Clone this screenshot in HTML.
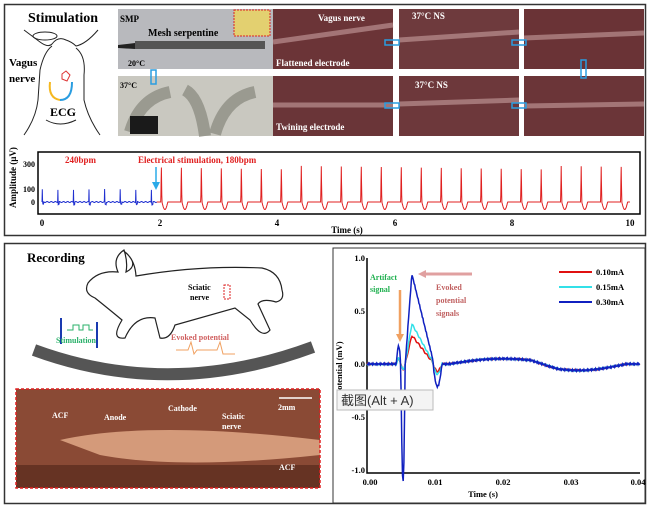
<!DOCTYPE html>
<html><head><meta charset="utf-8"><style>
body{margin:0;background:#fff;}
svg{display:block;font-family:"Liberation Serif",serif;font-weight:bold;}
</style></head><body>
<svg id="s" width="650" height="510" viewBox="0 0 650 510" xmlns="http://www.w3.org/2000/svg">
<rect x="0" y="0" width="650" height="510" fill="#fff"/>
<rect x="4.5" y="4.5" width="641" height="231" fill="none" stroke="#333" stroke-width="1.5"/>
<text x="28" y="22" font-size="14">Stimulation</text>
<g fill="none" stroke="#222" stroke-width="1">
<path d="M24 30 L40 42 Q48 48 52 44 Q58 36 66 40 Q72 42 76 46 Q86 44 98 30 M52 46 Q44 52 40 70 L38 100 Q36 118 24 135 M76 48 Q86 56 84 75 L84 100 Q88 118 100 135 M46 120 Q60 128 76 120"/>
<ellipse cx="45" cy="36" rx="12" ry="4"/>
</g>
<path d="M50 82 Q48 98 60 100" fill="none" stroke="#f5b820" stroke-width="2"/>
<path d="M60 100 Q72 100 72 82" fill="none" stroke="#2a9de0" stroke-width="2"/>
<path d="M62 74 l4 -3 l4 4 l-3 6 l-5 -2z" fill="none" stroke="#d33" stroke-width="1"/>
<text x="9" y="66" font-size="11">Vagus</text>
<text x="9" y="82" font-size="11">nerve</text>
<text x="50" y="116" font-size="12">ECG</text>
<rect x="118" y="9" width="155" height="60" fill="#b8b9bd"/>
<rect x="135" y="41" width="130" height="8" fill="#555"/>
<path d="M118 45 L135 43 L135 49 L118 48z" fill="#222"/>
<rect x="234" y="10" width="36" height="26" fill="#e3d070" stroke="#d22" stroke-dasharray="2,1"/>
<text x="120" y="22" font-size="9">SMP</text>
<text x="148" y="36" font-size="10">Mesh serpentine</text>
<text x="128" y="66" font-size="8">20°C</text>
<rect x="118" y="76" width="155" height="60" fill="#c9c8c0"/>
<path d="M130 132 Q140 98 170 92 M185 90 Q200 98 205 136 M215 134 Q225 98 255 92" stroke="#9a9a90" stroke-width="12" fill="none"/>
<rect x="130" y="116" width="28" height="18" fill="#1a1a1a"/>
<text x="120" y="88" font-size="8">37°C</text>
<rect x="273" y="9" width="120" height="60" fill="#6b3437"/>
<rect x="399" y="9" width="120" height="60" fill="#6e3a3d"/>
<rect x="524" y="9" width="120" height="60" fill="#6a3336"/>
<rect x="273" y="76" width="120" height="60" fill="#6a3538"/>
<rect x="399" y="76" width="120" height="60" fill="#6d383b"/>
<rect x="524" y="76" width="120" height="60" fill="#6b3538"/>
<g stroke="#c8a0a0" stroke-width="5" opacity=".6" fill="none">
<path d="M273 42 L393 25 M399 40 L519 32 M524 38 L644 33 M273 105 L393 105 M399 104 L519 100 M524 106 L644 104"/>
</g>
<text x="318" y="21" font-size="9" fill="#fff">Vagus nerve</text>
<text x="276" y="66" font-size="9" fill="#fff">Flattened electrode</text>
<text x="412" y="19" font-size="9" fill="#fff">37°C NS</text>
<text x="415" y="88" font-size="9" fill="#fff">37°C NS</text>
<text x="276" y="130" font-size="9" fill="#fff">Twining electrode</text>
<g fill="none" stroke="#2a9de0" stroke-width="1.5">
<rect x="385" y="40" width="14" height="5"/><rect x="512" y="40" width="14" height="5"/>
<rect x="581" y="60" width="5" height="18"/><rect x="385" y="103" width="14" height="5"/><rect x="512" y="103" width="14" height="5"/>
<rect x="151" y="70" width="5" height="14"/>
</g>
<rect x="38" y="152" width="602" height="62" fill="none" stroke="#000" stroke-width="1.5"/>
<g id="ecg"></g>
<text x="16" y="208" font-size="9" transform="rotate(-90 16 208)">Amplitude (µV)</text>
<g font-size="8" text-anchor="end"><text x="35" y="167">300</text><text x="35" y="192">100</text><text x="35" y="205">0</text></g>
<g font-size="9" text-anchor="middle"><text x="42" y="226">0</text><text x="160" y="226">2</text><text x="277" y="226">4</text><text x="395" y="226">6</text><text x="512" y="226">8</text><text x="630" y="226">10</text></g>
<text x="347" y="233" font-size="9" text-anchor="middle">Time (s)</text>
<text x="65" y="163" font-size="9" fill="#e02020">240bpm</text>
<text x="138" y="163" font-size="9" fill="#e02020">Electrical stimulation, 180bpm</text>
<path d="M156 167 L156 184" stroke="#2aaae8" stroke-width="1.5"/><path d="M152 182 L156 190 L160 182z" fill="#2aaae8"/>
<rect x="4.5" y="243.5" width="641" height="260" fill="none" stroke="#333" stroke-width="1.5"/>
<text x="27" y="262" font-size="13">Recording</text>
<path d="M95 298 Q83 293 88 283 Q98 270 118 272 Q112 258 124 250 Q128 262 126 272 Q140 265 125 252 Q135 260 136 276 Q200 265 262 268 Q280 272 282 290 Q285 300 276 302 Q262 298 258 304 L270 330 Q262 340 250 320 L235 308 Q200 318 175 325 Q170 340 160 338 L155 318 Q135 315 125 338 Q110 340 122 320 Q110 310 95 298Z" fill="none" stroke="#222" stroke-width="1.2"/>
<text x="188" y="290" font-size="8">Sciatic</text><text x="190" y="300" font-size="8">nerve</text>
<rect x="224" y="285" width="6" height="14" fill="none" stroke="#d22" stroke-dasharray="2,1"/>
<path d="M34 350 Q170 400 313 347" stroke="#555" stroke-width="12" fill="none"/>
<rect x="60" y="318" width="2" height="26" fill="#1a3ab0"/><rect x="96" y="322" width="2" height="26" fill="#1a3ab0"/>
<path d="M67 330 h6 v-5 h6 v5 h4 v-5 h6 v5 h4" stroke="#2ab06a" fill="none"/>
<text x="56" y="343" font-size="8" fill="#2ab06a">Stimulation</text>
<text x="171" y="340" font-size="8" fill="#d06060">Evoked potential</text>
<path d="M176 350 h12 l3 -8 l3 12 l3 -4 h20 l3 -8 l3 12 h12" stroke="#f0a060" fill="none"/>
<rect x="16" y="389" width="304" height="99" fill="#8a4a35"/>
<path d="M60 440 Q150 420 320 440 L320 455 Q180 470 100 455Z" fill="#d49a7a"/>
<rect x="16" y="465" width="304" height="23" fill="#4e2418" opacity=".6"/>
<rect x="16" y="389" width="304" height="99" fill="none" stroke="#e02020" stroke-dasharray="3,2" stroke-width="1.5"/>
<g fill="#fff" font-size="8"><text x="52" y="418">ACF</text><text x="104" y="420">Anode</text><text x="168" y="411">Cathode</text><text x="222" y="419">Sciatic</text><text x="222" y="429">nerve</text><text x="278" y="410">2mm</text><text x="279" y="470">ACF</text></g>
<path d="M279 398 h33" stroke="#fff" stroke-width="1.5"/>
<rect x="333" y="248" width="312" height="255" fill="none" stroke="#333" stroke-width="1"/>
<path d="M367 258 V473 H640" fill="none" stroke="#000" stroke-width="1.5"/>
<g id="ep"></g>
<g font-size="8.5" text-anchor="end"><text x="365" y="261">1.0</text><text x="365" y="314">0.5</text><text x="365" y="367">0.0</text><text x="365" y="420">-0.5</text><text x="365" y="473">-1.0</text></g>
<g font-size="8.5" text-anchor="middle"><text x="370" y="485">0.00</text><text x="435" y="485">0.01</text><text x="503" y="485">0.02</text><text x="571" y="485">0.03</text><text x="638" y="485">0.04</text></g>
<text x="483" y="497" font-size="8.5" text-anchor="middle">Time (s)</text>
<text x="342" y="395" font-size="8.5" transform="rotate(-90 342 395)">Potential (mV)</text>
<g font-size="8.5"><text x="596" y="275">0.10mA</text><text x="596" y="290">0.15mA</text><text x="596" y="305">0.30mA</text></g>
<path d="M559 272 h33" stroke="#e01010" stroke-width="2"/><path d="M559 287 h33" stroke="#33e0e8" stroke-width="2"/><path d="M559 302 h33" stroke="#1020c0" stroke-width="2"/>
<text x="370" y="280" font-size="8" fill="#20b050">Artifact</text><text x="370" y="292" font-size="8" fill="#20b050">signal</text>
<g font-size="8" fill="#c06060"><text x="436" y="290">Evoked</text><text x="436" y="303">potential</text><text x="436" y="316">signals</text></g>
<path d="M400 290 V336" stroke="#f0a060" stroke-width="2.5"/><path d="M396 334 l4 8 l4 -8z" fill="#f0a060"/>
<path d="M472 274 H424" stroke="#e0a0a0" stroke-width="3"/><path d="M426 270 l-8 4 l8 4z" fill="#e0a0a0"/>
<rect x="337" y="390" width="96" height="20" fill="#f4f4f4" stroke="#bbb"/>
<text x="341" y="405" font-size="13" font-weight="normal" font-family="'Liberation Sans','Noto Sans CJK SC',sans-serif" fill="#333">截图(Alt + A)</text>
</svg>
<script>
var N="http://www.w3.org/2000/svg";
function P(g,d,c,w){var p=document.createElementNS(N,"path");p.setAttribute("d",d);p.setAttribute("stroke",c);p.setAttribute("stroke-width",w);p.setAttribute("fill","none");document.getElementById(g).appendChild(p);}
function X(t){return 42+58.8*t}function Y(v){return 202-v*0.125}
var d="M"+X(0)+" "+Y(0);
for(var t=0;t<1.95;t+=0.005){var ph=t%0.265;var v=(ph<0.01?100*(1-Math.abs(ph-0.005)/0.005):0)+(ph>0.01&&ph<0.03?-20:0)+Math.sin(t*90)*4;d+=" L"+X(t).toFixed(1)+" "+Y(v).toFixed(1);}
P("ecg",d,"#2030d0",1);
d="M"+X(1.95)+" "+Y(0);
for(var t=1.95;t<10;t+=0.004){var ph=(t-2.02)%0.34;if(ph<0)ph+=0.34;var v=0;if(ph<0.02)v=(290-((t*7)%30))*(1-Math.abs(ph-0.01)/0.01);else if(ph<0.12)v=-60*Math.sin((ph-0.02)/0.1*Math.PI);d+=" L"+X(t).toFixed(1)+" "+Y(v).toFixed(1);}
P("ecg",d,"#e02020",1);
function XX(t){return 367+t/0.04*273}function YY(v){return 364-v*106}
function ep(a,c,seed){var s="";for(var i=0;i<=400;i++){var t=i*0.0001,v=0;
v+=Math.sin(i*seed)*0.008;
if(t>0.0043&&t<0.0056){var u=(t-0.0043)/0.0013;v+=0.17*Math.sin(u*Math.PI*2)*(c=="#1020c0"?1:0.3);if(c=="#1020c0"&&u>0.5)v-=0.95*Math.sin((u-0.5)*2*Math.PI)*1;}
if(t>0.0056&&t<0.011){var u=(t-0.0056)/0.0054;v+=a*(u<0.18?u/0.18:Math.max(0,1-(u-0.18)/0.6));if(u>0.75)v-=0.1*Math.sin((u-0.75)/0.25*Math.PI)*(a/0.4);}
v+=0.05*Math.sin((t-0.012)/0.016*Math.PI)*(t>0.012&&t<0.028?1:0);
v-=0.06*Math.sin((t-0.024)/0.014*Math.PI)*(t>0.024&&t<0.038?1:0);
s+=(i?" L":"M")+XX(t).toFixed(1)+" "+YY(v).toFixed(1);}
P("ep",s,c,1.5);}
ep(0.27,"#e01010",7.3);ep(0.38,"#33e0e8",5.1);ep(0.85,"#1020c0",3.7);
</script>
</body></html>
